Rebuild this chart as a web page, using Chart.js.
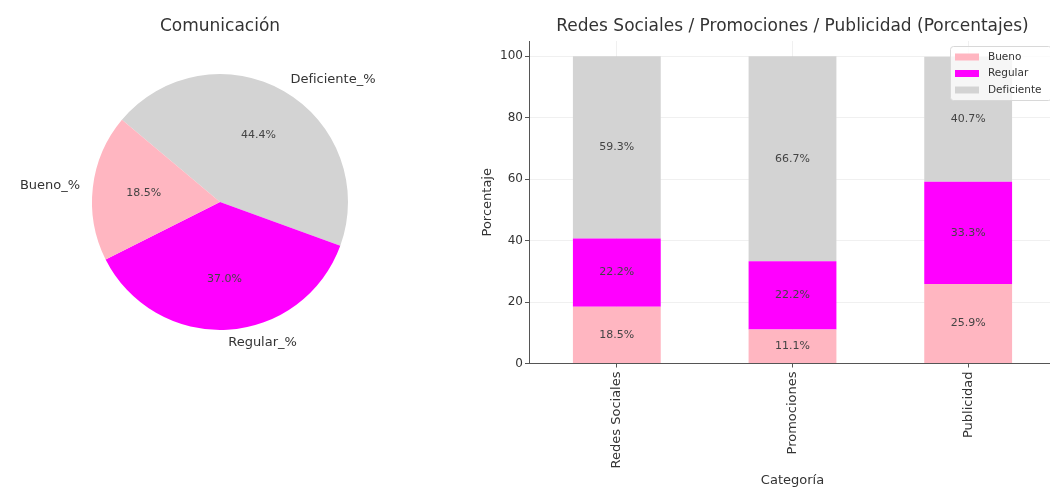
<!DOCTYPE html>
<html lang="es">
<head>
<meta charset="utf-8">
<title>Comunicación / Redes Sociales</title>
<script src="https://cdn.jsdelivr.net/npm/chart.js@4.4.1/dist/chart.umd.min.js"></script>
<style>
  html, body { margin: 0; padding: 0; background: #fff; overflow: hidden; }
  #page { position: relative; width: 1050px; height: 488px; overflow: hidden; }
  #pie-box { position: absolute; left: 0; top: 0; width: 440px; height: 488px; }
  #bar-box { position: absolute; left: 440px; top: 0; width: 640px; height: 488px; }
</style>
</head>
<body>
<div id="page">
  <div id="pie-box"><canvas id="pie-chart"></canvas></div>
  <div id="bar-box"><canvas id="bar-chart"></canvas></div>
</div>
<script>
// Pastel: Comunicación
const pieLabels = ['Bueno_%', 'Regular_%', 'Deficiente_%'];
const pieValues = [18.5, 37.0, 44.4];
const pieColors = ['#ffb6c1', '#ff00ff', '#d3d3d3'];

// Barras apiladas
const categories = ['Redes Sociales', 'Promociones', 'Publicidad'];
const bueno = [18.5, 11.1, 25.9];
const regular = [22.2, 22.2, 33.3];
const deficiente = [59.3, 66.7, 40.7];
const yTicks = [0, 20, 40, 60, 80, 100];

Chart.defaults.font.family = '"DejaVu Sans", sans-serif';
Chart.defaults.color = '#333';
Chart.defaults.animation = false;

// Chart.js gira en sentido horario: invertimos el orden para que
// Bueno -> Regular -> Deficiente vaya en sentido antihorario desde 140°
const pieOrder = [2, 1, 0];

// Etiquetas del pastel: porcentaje dentro y nombre fuera
const pieLabelsPlugin = {
    id: 'pieLabels',
    afterDatasetsDraw(chart) {
        const ctx = chart.ctx;
        const meta = chart.getDatasetMeta(0);
        const ds = chart.data.datasets[0];
        ctx.save();
        ctx.textBaseline = 'middle';
        meta.data.forEach((arc, i) => {
            const p = arc.getProps(['x', 'y', 'startAngle', 'endAngle', 'outerRadius'], true);
            const mid = (p.startAngle + p.endAngle) / 2;
            const cos = Math.cos(mid), sin = Math.sin(mid);

            ctx.font = '11px "DejaVu Sans"';
            ctx.fillStyle = '#444';
            ctx.textAlign = 'center';
            ctx.fillText(ds.data[i].toFixed(1) + '%',
                p.x + cos * p.outerRadius * 0.6, p.y + sin * p.outerRadius * 0.6);

            ctx.font = '13px "DejaVu Sans"';
            ctx.fillStyle = '#333';
            ctx.textAlign = cos >= 0 ? 'left' : 'right';
            ctx.fillText(chart.data.labels[i],
                p.x + cos * p.outerRadius * 1.1, p.y + sin * p.outerRadius * 1.1);
        });
        ctx.restore();
    }
};

new Chart(document.getElementById('pie-chart'), {
    type: 'pie',
    data: {
        labels: pieOrder.map(i => pieLabels[i]),
        datasets: [{
            data: pieOrder.map(i => pieValues[i]),
            backgroundColor: pieOrder.map(i => pieColors[i]),
            borderWidth: 0
        }]
    },
    options: {
        responsive: true,
        maintainAspectRatio: false,
        rotation: -50,
        layout: { padding: { left: 92, right: 92, top: 0, bottom: 158 } },
        plugins: {
            legend: { display: false },
            tooltip: { enabled: false },
            title: {
                display: true,
                text: 'Comunicación',
                color: '#333',
                font: { size: 17, weight: 'normal' },
                padding: { top: 16, bottom: 37.6 }
            }
        }
    },
    plugins: [pieLabelsPlugin]
});

// Porcentaje en el centro de cada tramo de barra
const barValuesPlugin = {
    id: 'barValues',
    afterDatasetsDraw(chart) {
        const ctx = chart.ctx;
        ctx.save();
        ctx.font = '11px "DejaVu Sans"';
        ctx.fillStyle = '#444';
        ctx.textAlign = 'center';
        ctx.textBaseline = 'middle';
        chart.data.datasets.forEach((ds, di) => {
            chart.getDatasetMeta(di).data.forEach((bar, i) => {
                ctx.fillText(ds.data[i].toFixed(1) + '%', bar.x, (bar.y + bar.base) / 2);
            });
        });
        ctx.restore();
    }
};

// Leyenda con marco en la esquina superior derecha
const boxLegendPlugin = {
    id: 'boxLegend',
    afterDraw(chart) {
        const { ctx, chartArea } = chart;
        const sets = chart.data.datasets;
        const w = 101, h = 54, rowH = 16.5;
        const left = chartArea.right - 5 - w, top = chartArea.top + 5;
        ctx.save();
        ctx.fillStyle = 'rgba(255,255,255,0.8)';
        ctx.strokeStyle = '#d8d8d8';
        ctx.lineWidth = 1;
        ctx.beginPath();
        ctx.roundRect(left + 0.5, top + 0.5, w, h, 3);
        ctx.fill();
        ctx.stroke();
        ctx.font = '10.5px "DejaVu Sans"';
        ctx.textAlign = 'left';
        ctx.textBaseline = 'middle';
        sets.forEach((ds, i) => {
            const cy = top + 11 + rowH * i;
            ctx.fillStyle = ds.backgroundColor;
            ctx.fillRect(left + 5, cy - 3.5, 24, 7);
            ctx.fillStyle = '#333';
            ctx.fillText(ds.label, left + 38, cy);
        });
        ctx.restore();
    }
};

new Chart(document.getElementById('bar-chart'), {
    type: 'bar',
    data: {
        labels: categories,
        datasets: [
            { label: 'Bueno', data: bueno, backgroundColor: '#ffb6c1' },
            { label: 'Regular', data: regular, backgroundColor: '#ff00ff' },
            { label: 'Deficiente', data: deficiente, backgroundColor: '#d3d3d3' }
        ]
    },
    options: {
        responsive: true,
        maintainAspectRatio: false,
        barPercentage: 0.5,
        categoryPercentage: 1.0,
        layout: { padding: { left: 0, right: 24, top: 0, bottom: 0 } },
        plugins: {
            legend: { display: false },
            tooltip: { enabled: false },
            title: {
                display: true,
                fullSize: false,
                text: 'Redes Sociales / Promociones / Publicidad (Porcentajes)',
                color: '#333',
                font: { size: 17, weight: 'normal' },
                padding: { top: 16, bottom: 4.6 }
            }
        },
        scales: {
            x: {
                stacked: true,
                offset: true,
                afterFit(scale) { scale.height = 124.5; },
                grid: {
                    offset: false,
                    color: 'rgba(0,0,0,0.06)',
                    tickColor: '#555',
                    tickLength: 4
                },
                border: { color: '#555', width: 1 },
                ticks: {
                    autoSkip: false,
                    minRotation: 90,
                    maxRotation: 90,
                    padding: 4,
                    color: '#333',
                    font: { size: 13 }
                },
                title: {
                    display: true,
                    text: 'Categoría',
                    color: '#333',
                    font: { size: 13 },
                    padding: { top: 0, bottom: 0 }
                }
            },
            y: {
                stacked: true,
                min: 0,
                max: 105,
                afterFit(scale) { scale.width = 89; },
                afterBuildTicks(scale) { scale.ticks = yTicks.map(v => ({ value: v })); },
                grid: {
                    color: 'rgba(0,0,0,0.06)',
                    tickColor: '#555',
                    tickLength: 4
                },
                border: { color: '#555', width: 1 },
                ticks: {
                    padding: 2,
                    color: '#333',
                    font: { size: 12 }
                },
                title: {
                    display: true,
                    text: 'Porcentaje',
                    color: '#333',
                    font: { size: 13 },
                    padding: { top: 40, bottom: 0 }
                }
            }
        }
    },
    plugins: [barValuesPlugin, boxLegendPlugin]
});
</script>
</body>
</html>
